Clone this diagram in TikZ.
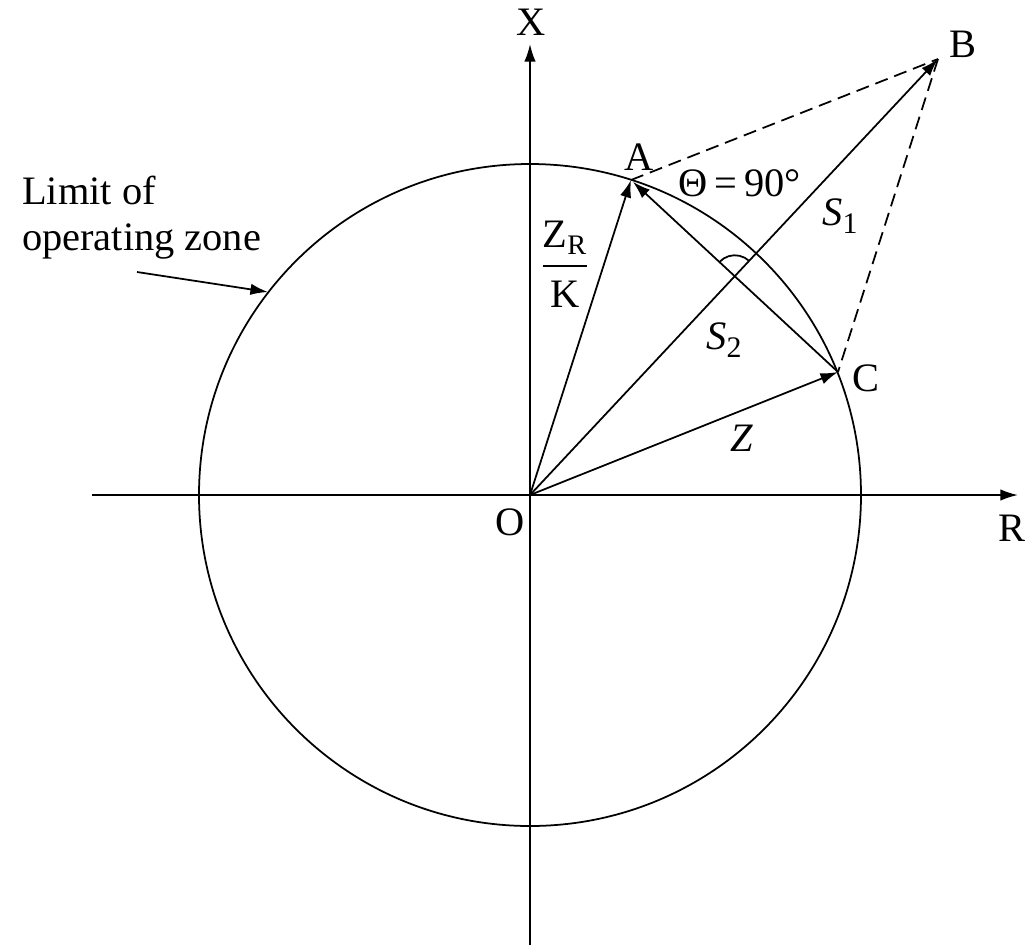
\documentclass[tikz,border=0pt]{standalone}
\usepackage{amsmath}
\usepackage{fontspec}
\setmainfont{Liberation Serif}
\usetikzlibrary{arrows.meta}
\begin{document}
\begin{tikzpicture}[x=0.02cm,y=-0.02cm,
  every node/.style={font=\fontsize{23}{27}\selectfont, inner sep=1pt},
  line/.style={line width=1pt},
  vec/.style={line, -{Latex[length=10pt,width=6.5pt]}},
  dashline/.style={line, dash pattern=on 7.5pt off 4pt}]
\useasboundingbox (0,0) rectangle (1025,948);
% points
\coordinate (O) at (530,495);
\coordinate (A) at (631,180);
\coordinate (B) at (938,59);
\coordinate (C) at (838,372);
\coordinate (Xb) at (530,945);
\coordinate (Xt) at (530,44);
\coordinate (Rl) at (92,495);
\coordinate (Rr) at (1018,495);
\coordinate (ls) at (137,272);
\coordinate (lt) at (268,292);
% axes
\draw[vec] (Rl) -- (Rr);
\draw[vec] (Xb) -- (Xt);
% circle
\draw[line] (O) circle[radius=331];
% vectors
\draw[vec] (O) -- (A);
\draw[vec] (O) -- (B);
\draw[vec] (O) -- (C);
\draw[vec, shorten >=1.5pt] (C) -- (A);
\draw[dashline] (A) -- (B);
\draw[dashline] (B) -- (C);
% right angle arc
\coordinate (I) at (intersection of O--B and C--A);
\draw[line] ([shift={(-137.2:21)}]I) arc[start angle=-137.2, end angle=-46.9, radius=21];
% pointer
\draw[vec] (ls) -- (lt);
% labels
\node (lX) at (531,22) {X};
\node (lR) at (1012,528) {R};
\node (lO) at (510,522) {O};
\node (lA) at (639,157) {A};
\node (lB) at (963,44) {B};
\node (lC) at (866,378) {C};
\node (lT) at (740,183) {Θ\,=\,90°};
\node (lS1) at (840,216) {\textit{S}\raisebox{-0.4ex}{\fontsize{17}{17}\selectfont 1}};
\node (lS2) at (724,340) {\textit{S}\raisebox{-0.4ex}{\fontsize{17}{17}\selectfont 2}};
\node (lZ) at (742,438) {\textit{Z}};
\node (lZR) at (565,264) {$\dfrac{\text{Z}_{\text{R}}}{\text{K}}$};
\node[anchor=base west] (lim1) at (20,204) {Limit of};
\node[anchor=base west] (lim2) at (20,250) {operating zone};
\end{tikzpicture}
\end{document}
